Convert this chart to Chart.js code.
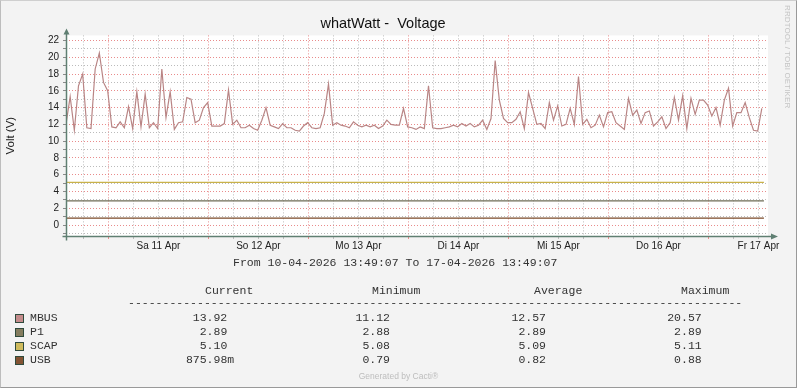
<!DOCTYPE html>
<html>
<head>
<meta charset="utf-8">
<title>whatWatt - Voltage</title>
<script src="https://cdn.jsdelivr.net/npm/chart.js@4/dist/chart.umd.min.js"></script>
<style>
body { margin: 0; background: #f3f3f3; }
#wrap { position: relative; width: 797px; height: 388px; overflow: hidden; font-family: "Liberation Sans", Arial, sans-serif; }
#frame { position: absolute; left: 0; top: 0; width: 797px; height: 388px; box-sizing: border-box;
         border: 1px solid #999; border-top-color: #cfcfcf; border-left-color: #bdbdbd; pointer-events: none; }
.mono { position: absolute; font-family: "Liberation Mono", "Courier New", monospace; font-size: 11.5px;
        line-height: 14px; color: #333; white-space: pre; }
.right { text-align: right; }
.swatch { position: absolute; width: 7px; height: 7px; border: 1px solid #2f4a3c; }
#credit { position: absolute; left: 0; width: 797px; top: 371px; text-align: center; font-size: 8.5px; color: #bdbdbd; }
#vendor { position: absolute; left: 783px; top: 5px; writing-mode: vertical-rl; font-size: 8px; color: #c4c4c4; letter-spacing: 0.1px; }
</style>
</head>
<body>
<div id="wrap">
  <canvas id="voltChart" width="797" height="388"></canvas>
  <div id="legend"></div>
  <div id="credit">Generated by Cacti®</div>
  <div id="vendor">RRDTOOL / TOBI OETIKER</div>
  <div id="frame"></div>
</div>
<script>
// whatWatt voltage graph (rrdtool look-alike)

const chartTitle = 'whatWatt -  Voltage';
const axisTitle = 'Volt (V)';
const rangeFrom = '10-04-2026 13:49:07';
const rangeTo = '17-04-2026 13:49:07';

// time axis in hours since the start of the range
const totalHours = 168;
const firstMidnight = 10 + 11 / 60;
const dayLabels = ['Sa 11 Apr', 'So 12 Apr', 'Mo 13 Apr', 'Di 14 Apr', 'Mi 15 Apr', 'Do 16 Apr', 'Fr 17 Apr'];

// MBUS, one sample per hour
const mbusValues = [
    12.0, 15.3, 11.3, 16.6, 18.0, 11.6, 11.5, 18.6, 20.5, 17.0, 16.0, 11.7,
    11.6, 12.3, 11.6, 14.1, 11.5, 15.9, 11.7, 15.6, 11.6, 12.2, 11.5, 18.6,
    12.8, 15.9, 11.4, 12.2, 12.3, 15.2, 15.0, 12.2, 12.5, 14.0, 14.6, 11.8,
    11.8, 11.8, 12.1, 16.1, 12.0, 12.5, 11.6, 11.6, 11.9, 11.5, 11.3, 12.5,
    14.0, 11.9, 11.7, 11.5, 12.1, 11.6, 11.6, 11.3, 11.2, 11.8, 12.2, 11.6,
    11.5, 11.6, 13.3, 16.8, 11.9, 12.2, 11.9, 11.8, 11.6, 12.3, 11.9, 11.7,
    11.9, 11.7, 11.9, 11.5, 11.8, 12.5, 12.0, 11.9, 11.9, 13.9, 11.7, 11.6,
    11.4, 11.7, 11.5, 16.6, 11.6, 11.5, 11.5, 11.6, 11.7, 11.9, 11.7, 12.1,
    11.8, 12.1, 11.7, 11.9, 12.5, 11.4, 12.7, 19.6, 14.9, 12.7, 12.2, 12.2,
    12.6, 13.5, 11.5, 15.8, 13.9, 12.0, 12.1, 11.5, 14.6, 12.5, 14.2, 11.8,
    12.0, 13.9, 12.0, 17.7, 12.0, 12.6, 11.6, 11.9, 13.1, 11.7, 13.4, 13.5,
    12.2, 11.8, 11.4, 15.1, 13.1, 13.7, 12.1, 13.4, 13.6, 11.8, 12.3, 12.9,
    11.5, 12.2, 15.2, 12.5, 15.4, 11.5, 15.1, 13.2, 14.9, 14.9, 14.3, 13.0,
    14.0, 11.9, 14.9, 16.3, 11.8, 13.4, 13.4, 14.6, 12.8, 11.3, 11.2, 13.9
];

// the three flat series, sampled at start and end of the data
const flatHours = [0, 167.5];
const p1Values = [2.89, 2.89];
const scapValues = [5.10, 5.10];
const usbValues = [0.82, 0.82];

// legend table
const seriesNames = ['MBUS', 'P1', 'SCAP', 'USB'];
const legendCurrent = ['13.92', '2.89', '5.10', '875.98m'];
const legendMinimum = ['11.12', '2.88', '5.08', '0.79'];
const legendAverage = ['12.57', '2.89', '5.09', '0.82'];
const legendMaximum = ['20.57', '2.89', '5.11', '0.88'];

const lineColors = ['#b98585', '#6e6c56', '#c9b24a', '#7b4a29'];
const swatchColors = ['#c48c8c', '#857d5f', '#cfbb5d', '#835333'];

const gridMajor = 'rgba(228, 110, 110, 0.8)';
const gridMinor = 'rgba(175, 175, 175, 0.85)';
const axisColor = '#5f7f72';

function xStep(value) {
    return Math.round((value - firstMidnight) / 6);
}

const frame = {
    id: 'frame',
    beforeDraw(chart) {
        const { ctx, chartArea: a } = chart;
        ctx.save();
        ctx.fillStyle = '#ffffff';
        ctx.fillRect(a.left, a.top, a.right - a.left + 2, a.bottom - a.top);
        ctx.restore();
    },
    afterDatasetsDraw(chart) {
        const { ctx, chartArea: a } = chart;
        const x0 = Math.round(a.left) + 0.5;
        const y0 = Math.round(a.bottom) + 0.5;
        ctx.save();
        ctx.strokeStyle = axisColor;
        ctx.fillStyle = axisColor;
        ctx.lineWidth = 1.5;
        ctx.beginPath();
        ctx.moveTo(x0 - 4, y0); ctx.lineTo(a.right + 6, y0);
        ctx.moveTo(x0, y0 + 4); ctx.lineTo(x0, a.top - 2);
        ctx.stroke();
        ctx.beginPath();
        ctx.moveTo(a.right + 12, y0); ctx.lineTo(a.right + 5, y0 - 3); ctx.lineTo(a.right + 5, y0 + 3);
        ctx.closePath();
        ctx.moveTo(x0, a.top - 7); ctx.lineTo(x0 - 3, a.top - 1); ctx.lineTo(x0 + 3, a.top - 1);
        ctx.closePath();
        ctx.fill();
        ctx.restore();
    }
};

function flatSeries(values) {
    return flatHours.map((h, i) => ({ x: h, y: values[i] }));
}

const datasets = [
    { label: 'USB', data: flatSeries(usbValues), borderColor: lineColors[3] },
    { label: 'P1', data: flatSeries(p1Values), borderColor: lineColors[1] },
    { label: 'SCAP', data: flatSeries(scapValues), borderColor: lineColors[2] },
    { label: 'MBUS', data: mbusValues.map((v, i) => ({ x: i, y: v })), borderColor: lineColors[0] }
].map(ds => Object.assign(ds, { borderWidth: 1.2, pointRadius: 0, tension: 0, fill: false }));

new Chart(document.getElementById('voltChart'), {
    type: 'line',
    data: { datasets },
    options: {
        responsive: false,
        animation: false,
        devicePixelRatio: 1,
        layout: { padding: { left: 0, right: 31, top: 0, bottom: 131 } },
        plugins: {
            legend: { display: false },
            tooltip: { enabled: false },
            title: {
                display: true,
                text: chartTitle,
                color: '#111',
                font: { family: '"Liberation Sans", Arial, sans-serif', size: 14.5, weight: 'normal' },
                padding: { top: 15, bottom: 3 }
            }
        },
        scales: {
            x: {
                type: 'linear',
                min: 0,
                max: totalHours,
                afterBuildTicks(scale) {
                    const ticks = [];
                    for (let h = firstMidnight - 6; h <= totalHours; h += 6) ticks.push({ value: h });
                    scale.ticks = ticks;
                },
                afterFit(scale) { scale.height = 21; },
                ticks: {
                    autoSkip: false,
                    maxRotation: 0,
                    padding: 1,
                    color: '#222',
                    font: { family: '"Liberation Sans", Arial, sans-serif', size: 10 },
                    callback(value) {
                        const k = xStep(value);
                        return ((k % 4) + 4) % 4 === 2 ? dayLabels[(k - 2) / 4] || '' : '';
                    }
                },
                grid: {
                    color: c => (((xStep(c.tick.value) % 4) + 4) % 4 === 0 ? gridMajor : gridMinor),
                    tickColor: c => (((xStep(c.tick.value) % 4) + 4) % 4 === 0 ? gridMajor : gridMinor),
                    tickLength: 3,
                    lineWidth: 1
                },
                border: { display: false, dash: [1, 2] }
            },
            y: {
                min: -1.3,
                max: 22.6,
                afterBuildTicks(scale) {
                    const ticks = [];
                    for (let v = -1; v <= 22; v++) ticks.push({ value: v });
                    scale.ticks = ticks;
                },
                afterFit(scale) { scale.width = 66; },
                ticks: {
                    autoSkip: false,
                    padding: 4,
                    color: '#222',
                    font: { family: '"Liberation Sans", Arial, sans-serif', size: 10 },
                    callback: v => (v % 2 === 0 ? String(v) : '')
                },
                grid: {
                    color: c => (c.tick.value % 2 === 0 ? gridMajor : gridMinor),
                    tickColor: '#8a8a8a',
                    tickLength: 3,
                    lineWidth: 1
                },
                border: { display: false, dash: [1, 2] },
                title: {
                    display: true,
                    text: axisTitle,
                    color: '#222',
                    font: { family: '"Liberation Sans", Arial, sans-serif', size: 11.5 },
                    padding: { top: 4, bottom: 0 }
                }
            }
        }
    },
    plugins: [frame]
});

// text block under the graph
const legend = document.getElementById('legend');
function addText(text, left, centerY, cls, right) {
    const el = document.createElement('div');
    el.className = 'mono' + (cls ? ' ' + cls : '');
    el.textContent = text;
    el.style.top = (centerY - 7) + 'px';
    if (right !== undefined) el.style.left = (right - 200) + 'px', el.style.width = '200px';
    else el.style.left = left + 'px';
    legend.appendChild(el);
}

addText('From ' + rangeFrom + ' To ' + rangeTo, 233, 263);
addText('Current', 205, 291);
addText('Minimum', 372, 291);
addText('Average', 534, 291);
addText('Maximum', 681, 291);

const dash = document.createElement('div');
dash.className = 'mono';
dash.style.cssText = 'left:128px;top:296px;width:615px;overflow:hidden;';
dash.textContent = '-'.repeat(100);
legend.appendChild(dash);

const colRight = [234.2, 396.9, 552.9, 708.6];
const pad = s => (/[a-zA-Z]$/.test(s) ? s : s + ' ');
seriesNames.forEach((name, i) => {
    const cy = 318 + i * 14;
    const sw = document.createElement('div');
    sw.className = 'swatch';
    sw.style.left = '15px';
    sw.style.top = (cy - 4) + 'px';
    sw.style.background = swatchColors[i];
    legend.appendChild(sw);
    addText(name, 30, cy);
    [legendCurrent, legendMinimum, legendAverage, legendMaximum].forEach((col, j) => {
        addText(pad(col[i]), 0, cy, 'right', colRight[j]);
    });
});
</script>
</body>
</html>
